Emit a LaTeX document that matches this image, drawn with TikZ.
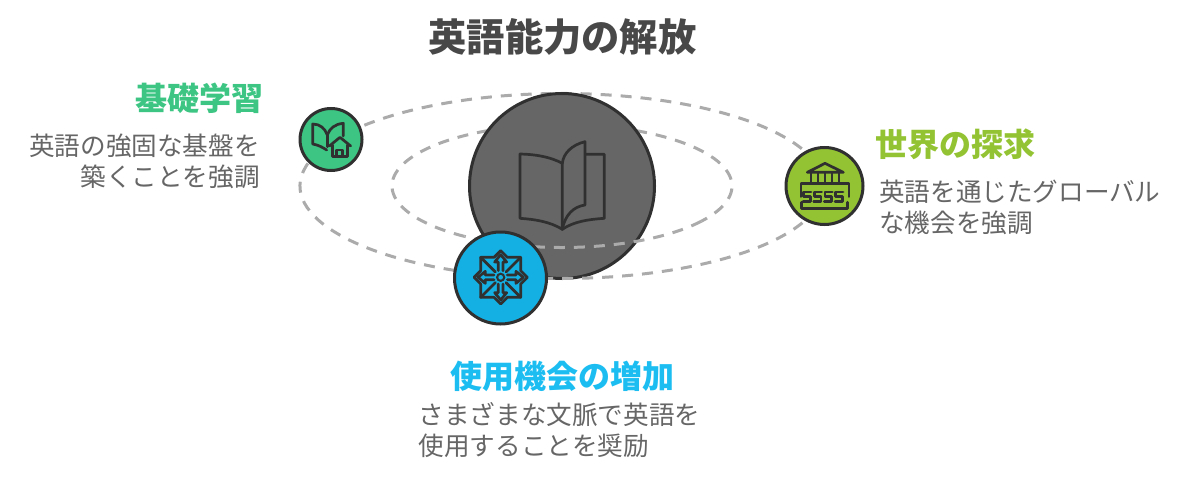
\documentclass[tikz,border=0pt]{standalone}
\usepackage{fontspec}
\newfontfamily\cjk{Noto Sans CJK JP}
\definecolor{ringc}{HTML}{ABABAB}
\definecolor{inkc}{HTML}{303030}
\definecolor{hubc}{HTML}{666666}
\definecolor{greenc}{HTML}{3CC583}
\definecolor{olivec}{HTML}{93C332}
\definecolor{bluec}{HTML}{15B0E3}
\definecolor{bluet}{HTML}{1CBEF2}
\definecolor{titlec}{HTML}{484848}
\definecolor{bodyc}{HTML}{666666}
\tikzset{
  ring/.style={draw=ringc,line width=3pt,dash pattern=on 11pt off 9pt},
  disc/.style={circle,draw=inkc,line width=3pt,inner sep=0pt,outer sep=0pt},
  ico/.style={draw=inkc,line width=2.7pt,line join=round,line cap=round,fill=none},
  titletext/.style={font=\cjk\bfseries\fontsize{38.3}{44}\selectfont,text=titlec,inner sep=0pt},
  headtext/.style={font=\cjk\bfseries\fontsize{32}{36}\selectfont,inner sep=0pt},
  bodytext/.style={font=\cjk\fontsize{25.6}{31}\selectfont,text=bodyc,inner sep=0pt},
}
\begin{document}
\begin{tikzpicture}[x=1pt,y=-1pt]
\useasboundingbox (0,0) rectangle (1200,479);
% orbits: the parts behind the hub
\draw[ring] (562,186) ++(105:262 and 92.5) arc [start angle=105,end angle=425,x radius=262,y radius=92.5];
\draw[ring] (562,186) ++(125:170 and 61.5) arc [start angle=125,end angle=395,x radius=170,y radius=61.5];
% hub
\node[disc,fill=hubc,minimum size=185pt] (hub) at (562,186) {};
% orbits: the parts in front of the hub
\draw[ring] (562,186) ++(35:170 and 61.5) arc [start angle=35,end angle=125,x radius=170,y radius=61.5];
\draw[ring] (562,186) ++(65:262 and 92.5) arc [start angle=65,end angle=105,x radius=262,y radius=92.5];
\begin{scope}[shift={(505,130)},scale=1/3]
\draw[ico] (172,100) .. controls (135,80) and (90,73) .. (45,72) -- (45,265) .. controls (90,268) and (135,275) .. (172,298) -- cycle;
\draw[ico] (172,100) .. controls (175,70) and (200,45) .. (240,35) -- (240,225) .. controls (205,230) and (180,255) .. (172,298);
\draw[ico] (242,73) -- (298,73) -- (298,265) .. controls (250,268) and (205,275) .. (172,298);
\end{scope}
% satellites
\node[disc,fill=greenc,minimum size=62pt] (learn) at (331,139.5) {};
\node[disc,fill=olivec,minimum size=77pt] (world) at (824.5,186) {};
\node[disc,fill=bluec,minimum size=92pt] (use) at (500.5,278) {};
% green icon
\begin{scope}[shift={(290,100)},scale=1/3]
\draw[ico] (112,105) .. controls (105,85) and (90,72) .. (68,72) -- (68,132) .. controls (85,135) and (98,142) .. (110,150);
\draw[ico] (112,105) .. controls (119,85) and (135,72) .. (160,70) -- (160,108);
\draw[ico] (112,105) -- (112,140);
\draw[ico] (118,138) -- (150,112) -- (182,138);
\draw[ico] (128,135) -- (128,170) -- (172,170) -- (172,135);
\draw[ico] (140,168) -- (140,150) -- (158,150) -- (158,168);
\end{scope}
% olive icon
\begin{scope}[shift={(775,140)},scale=1/3]
\draw[ico] (97,97) -- (150,70) -- (205,97) -- cycle;
\foreach \cx in {108,129,150,171,192} \draw[ico] (\cx,100) -- (\cx,130);
\draw[ico] (78,170) -- (78,130) -- (222,130) -- (222,170);
\draw[ico] (80,187) -- (80,205) -- (218,205) -- (218,187);
\foreach \sx in {84,116,148,180}
  \draw[ico] (\sx+24,156) -- (\sx+2,156) -- (\sx+2,170) -- (\sx+22,170) -- (\sx+22,184) -- (\sx,184);
\end{scope}
% blue icon
\begin{scope}[shift={(500.67,277.33)},scale=1/3]
\draw[ico] (0,-80) -- (20,-60) -- (60,-60) -- (60,-20) -- (80,0) -- (60,20) -- (60,60) -- (20,60) -- (0,80) -- (-20,60) -- (-60,60) -- (-60,20) -- (-80,0) -- (-60,-20) -- (-60,-60) -- (-20,-60) -- cycle;
\foreach \r in {0,90,180,270}{
  \begin{scope}[rotate=\r]
  \draw[ico] (-7,-20) -- (-7,-46) -- (-18,-46) -- (0,-68) -- (18,-46) -- (7,-46) -- (7,-20);
  \draw[ico] (-60,-60) -- (-16,-16);
  \end{scope}
}
\fill[inkc] (0,0) circle (14);
\fill[bluec] (0,0) circle (7);
\end{scope}
% texts
\node[titletext,anchor=center] (title) at (562.5,37) {英語能力の解放};
\node[headtext,text=greenc,anchor=east] (h1) at (264,98) {基礎学習};
\node[bodytext,align=right,anchor=east] (b1) at (260,161.5) {英語の強固な基盤を\\築くことを強調};
\node[headtext,text=olivec,anchor=west] (h2) at (875.5,144) {世界の探求};
\node[bodytext,align=left,anchor=west] (b2) at (879,207.5) {英語を通じたグローバル\\な機会を強調};
\node[headtext,text=bluet,anchor=west] (h3) at (450,376) {使用機会の増加};
\node[bodytext,align=left,anchor=west] (b3) at (418.5,430.5) {さまざまな文脈で英語を\\使用することを奨励};
\end{tikzpicture}
\end{document}
